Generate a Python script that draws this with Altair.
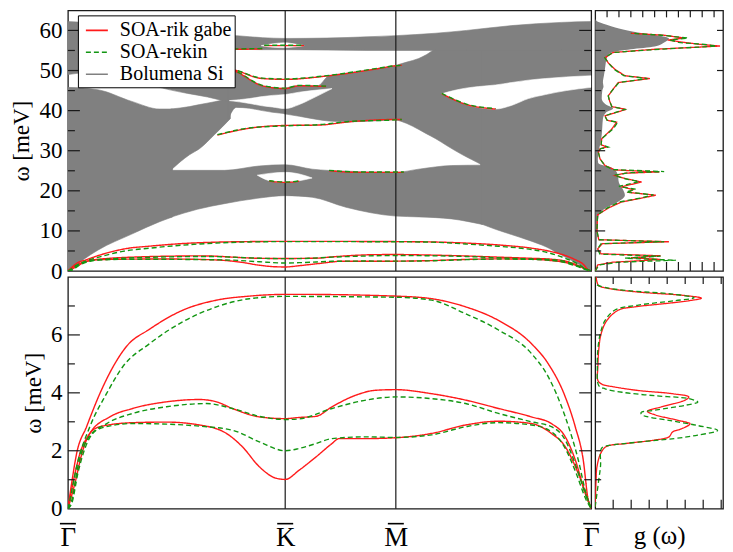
import altair as alt
import pandas as pd

SERIF = "Liberation Serif"
RED = "#ff1a1a"
GREEN = "#129612"
GRAY = "#808080"
FRAME = "#1a1a1a"

SERIES = ["SOA-rik gabe", "SOA-rekin", "Bolumena Si"]

# k-path positions (Γ = 0, K, M, Γ)
SYM_K = [0.0, 2.18, 3.29, 5.25]
SYM_LABELS = ["Γ", "K", "M", "Γ"]

# ---------------- low-energy surface modes (meV) ----------------
RUP_K = [0, 0.037, 0.087, 0.187, 0.32, 0.453, 0.587, 0.82, 1.15, 1.49, 1.82, 2.18, 2.32, 3.29, 3.65, 3.99, 4.32, 4.65, 4.82, 4.99, 5.09, 5.17, 5.22, 5.25]
RUP_W = [0, 0.87, 1.9, 2.83, 3.97, 4.9, 5.6, 6.2, 6.85, 7.2, 7.34, 7.4, 7.4, 7.34, 7.25, 6.97, 6.5, 5.7, 5.0, 3.86, 2.83, 1.69, 0.3, 0]
GUP_K = [0, 0.02, 0.087, 0.22, 0.387, 0.55, 0.82, 1.15, 1.49, 1.82, 2.18, 3.29, 3.65, 3.99, 4.32, 4.65, 4.82, 4.99, 5.12, 5.2, 5.25]
GUP_W = [0, 0.3, 1.45, 2.83, 3.97, 4.9, 5.7, 6.45, 6.97, 7.25, 7.33, 7.3, 7.2, 6.73, 6.17, 5.36, 4.55, 3.17, 1.69, 0.5, 0]
RMID_K = [0, 0.05, 0.12, 0.22, 0.42, 0.65, 0.99, 1.32, 1.49, 1.65, 1.92, 2.18, 2.32, 2.49, 2.65, 2.89, 3.09, 3.29, 3.65, 3.99, 4.32, 4.65, 4.85, 4.99, 5.09, 5.19, 5.25]
RMID_W = [0, 0.87, 1.9, 2.6, 3.17, 3.46, 3.69, 3.77, 3.69, 3.46, 3.17, 3.11, 3.15, 3.19, 3.52, 3.92, 4.09, 4.11, 3.97, 3.75, 3.46, 3.17, 2.94, 2.48, 1.69, 0.53, 0]
GMID_K = [0, 0.04, 0.10, 0.19, 0.39, 0.65, 0.99, 1.39, 1.65, 1.92, 2.18, 2.32, 2.65, 2.99, 3.29, 3.65, 3.99, 4.32, 4.65, 4.85, 4.99, 5.10, 5.19, 5.25]
GMID_W = [0, 0.3, 1.45, 2.37, 2.94, 3.29, 3.52, 3.63, 3.46, 3.19, 3.08, 3.1, 3.46, 3.75, 3.86, 3.8, 3.63, 3.29, 3.0, 2.83, 2.37, 1.45, 0.53, 0]
RLO_K = [0, 0.07, 0.14, 0.22, 0.32, 0.65, 0.99, 1.32, 1.59, 1.75, 1.92, 2.09, 2.18, 2.32, 2.49, 2.65, 2.72, 2.99, 3.29, 3.65, 3.99, 4.32, 4.65, 4.85, 4.99, 5.12, 5.22, 5.25]
RLO_W = [0, 0.87, 1.9, 2.6, 2.83, 2.97, 2.99, 2.89, 2.6, 2.14, 1.45, 1.05, 1.01, 1.33, 1.79, 2.25, 2.42, 2.42, 2.45, 2.6, 2.89, 3.02, 2.94, 2.6, 2.14, 1.22, 0.3, 0]
GLO_K = [0, 0.04, 0.10, 0.19, 0.32, 0.65, 0.99, 1.32, 1.65, 1.92, 2.18, 2.32, 2.49, 2.65, 2.99, 3.29, 3.65, 3.99, 4.32, 4.65, 4.85, 4.99, 5.10, 5.20, 5.25]
GLO_W = [0, 0.2, 1.22, 2.25, 2.77, 2.94, 2.92, 2.85, 2.71, 2.31, 2.0, 2.08, 2.25, 2.42, 2.48, 2.46, 2.55, 2.83, 2.97, 2.89, 2.66, 2.08, 1.22, 0.3, 0]

# ---------------- higher surface modes (top panel) ----------------
S36_K = [1.50, 1.65, 1.82, 2.18, 2.52, 2.82, 3.29, 3.35]
S36_R = [33.9, 34.8, 35.6, 36.3, 36.4, 37.2, 37.8, 37.8]
S36_G = [34.0, 34.9, 35.7, 36.2, 36.5, 37.3, 37.7, 37.8]
S22_K = [2.02, 2.10, 2.18, 2.26, 2.32]
S22_R = [22.4, 22.2, 22.1, 22.2, 22.4]
S22_G = [22.5, 22.3, 22.2, 22.3, 22.5]
S25_K = [2.62, 2.92, 3.29, 3.37]
S25_R = [25.0, 24.6, 24.6, 24.6]
S25_G = [25.1, 24.7, 24.7, 24.7]
S48_K = [1.55, 1.69, 1.95, 2.18, 2.62, 3.12, 3.29, 3.35]
S48_R = [51.0, 50.0, 48.0, 47.8, 48.7, 50.5, 51.2, 51.3]
S48_G = [51.0, 50.1, 48.1, 47.9, 48.8, 50.6, 51.2, 51.3]
S45_K = [1.55, 1.69, 1.95, 2.18, 2.32, 2.59]
S45_R = [51.0, 49.7, 46.2, 45.5, 46.2, 46.0]
S45_G = [51.0, 49.8, 46.3, 45.6, 46.3, 46.1]
S56_K = [1.97, 2.18, 2.37]
S56_R = [56.2, 56.2, 56.2]
S56_G = [56.3, 56.3, 56.3]
SR_K = [3.75, 3.99, 4.29]
SR_R = [44.2, 41.6, 40.4]
SR_G = [44.3, 41.7, 40.5]
S55_K = [1.50, 1.70, 1.95]
S55_R = [55.3, 55.3, 55.4]
S55_G = [55.4, 55.4, 55.5]

# ---------------- projected bulk bands (gray) ----------------
PA_K = [0, 0.30, 0.64, 0.92, 1.05]
PA_LO = [0, 5.2, 9.2, 12.3, 13.5]
PA_HI = [45.8, 45.2, 42.3, 40.4, 40.4]
PB_K = [1.03, 1.30, 1.57, 1.92, 2.18, 2.45, 2.79, 3.29, 3.52, 3.85, 4.16]
PB_LO = [13.4, 15.4, 16.8, 18.2, 18.8, 18.4, 15.9, 13.7, 13.5, 13.0, 11.6]
PB_HI = [25.1, 25.1, 25.1, 26.2, 26.5, 25.4, 24.9, 24.6, 25.4, 26.3, 26.4]
PC_K = [1.03, 1.22, 1.32, 1.47, 1.63]
PC_LO = [25.1, 29.0, 30.5, 34.0, 38.0]
PC_HI = [40.4, 41.0, 41.5, 42.2, 43.0]
PG2_K = [0.82, 1.0, 1.2, 1.4, 1.63]
PG2_LO = [46.5, 45.3, 44.3, 43.4, 42.0]
PG2_HI = [49.0, 49.5, 50.0, 50.5, 50.5]
PD_K = [1.61, 1.69, 1.82, 1.95, 2.05, 2.19]
PD_LO = [38.0, 40.8, 40.6, 40.0, 39.6, 39.2]
PD_HI = [50.5, 49.7, 47.8, 46.2, 45.8, 45.5]
PE_K = [2.17, 2.32, 2.50, 2.62, 2.79, 3.12, 3.30]
PE_LO = [39.2, 38.6, 37.8, 37.4, 37.2, 37.5, 37.8]
PE_HI = [45.5, 46.2, 46.1, 48.7, 49.3, 50.5, 51.2]
PF_K = [3.28, 3.40, 3.52, 3.60, 3.69, 3.80, 3.95, 4.05, 4.16]
PF_LO = [37.8, 36.8, 35.3, 34.2, 33.0, 31.3, 29.1, 27.8, 26.4]
PF_HI = [51.2, 52.1, 53.0, 54.0, 55.3, 55.5, 55.5, 55.5, 55.5]
PG_K = [4.14, 4.29, 4.45, 4.62, 4.80, 4.95, 5.10, 5.25]
PG_LO = [11.8, 10.4, 9.1, 7.7, 6.0, 4.0, 2.0, 0.0]
PG_HI = [55.5, 55.5, 55.5, 55.5, 55.5, 55.5, 55.5, 55.5]
PT_K = [0, 0.5, 1.0, 1.4, 1.69, 1.95, 2.18, 2.6, 3.0, 3.29, 3.69, 4.0, 4.45, 4.95, 5.25]
PT_LO = [49.0, 50.6, 52.5, 54.0, 55.3, 55.2, 55.2, 55.1, 55.0, 55.0, 55.0, 55.0, 55.0, 55.0, 55.0]
PT_HI = [62.2, 61.5, 60.3, 59.3, 58.7, 58.2, 58.0, 58.1, 58.4, 58.7, 59.3, 60.0, 61.2, 62.0, 62.2]
# gaps inside the gray region
H1_K = [1.90, 2.04, 2.18, 2.32, 2.45]
H1_LO = [23.9, 22.4, 22.1, 22.5, 23.2]
H1_HI = [23.9, 24.4, 24.6, 24.2, 23.2]
H2_K = [1.94, 2.06, 2.18, 2.28, 2.37]
H2_LO = [56.2, 55.8, 55.7, 55.9, 56.2]
H2_HI = [56.2, 56.7, 56.9, 56.6, 56.2]
H3_K = [1.62, 1.82, 1.95, 2.05, 2.18, 2.32, 2.45, 2.65]
H3_LO = [42.5, 41.8, 41.2, 40.9, 40.5, 41.5, 43.0, 45.5]
H3_HI = [42.5, 43.0, 43.5, 43.8, 44.0, 44.6, 45.0, 45.5]
H4_K = [3.75, 3.87, 3.99, 4.12, 4.29, 4.45, 4.62, 4.79, 5.0, 5.25]
H4_LO = [44.2, 43.0, 41.6, 40.8, 40.4, 41.3, 43.0, 44.0, 45.0, 45.8]
H4_HI = [44.2, 45.0, 45.6, 46.0, 46.4, 47.0, 47.6, 48.0, 48.4, 48.7]

# ---------------- density of states (top, 0-65 meV) ----------------
BULK_W = [0, 4, 8, 11, 14, 15.7, 17.2, 18.9, 20.5, 22, 24, 25.3, 26, 26.5, 27, 28, 30, 32, 34, 36, 38, 39.5, 40.5, 41.5, 43, 45, 46, 47, 49, 50, 51, 53.4, 54.5, 55.3, 56, 57, 58, 58.8, 59.5, 60.5, 61.5, 62.3, 63]
BULK_G = [0, 0.08, 0.15, 0.2, 0.3, 0.9, 1.9, 2.5, 2.3, 2.0, 1.9, 1.6, 1.2, 0.5, 0.25, 0.22, 0.3, 0.45, 0.55, 0.6, 0.65, 0.9, 1.5, 0.9, 0.55, 0.6, 0.7, 0.65, 0.75, 0.8, 0.85, 1.0, 1.4, 3.0, 5.0, 5.8, 6.2, 5.2, 3.6, 2.0, 0.9, 0.15, 0]
RDOS_W = [0, 0.5, 1.5, 2.2, 2.6, 2.9, 3.3, 3.8, 4.3, 5.5, 6.8, 7.3, 7.8, 10, 14, 15.7, 17.2, 18.0, 18.9, 19.6, 20.3, 21.0, 22.2, 23.0, 23.8, 24.4, 24.7, 25.2, 26.3, 28, 29.6, 30.5, 30.9, 31.5, 33, 35.4, 37.1, 37.6, 38.7, 40.3, 41, 42.5, 43.7, 45.3, 47, 48, 48.7, 50.3, 51.9, 53.2, 54.5, 55.3, 56.1, 56.5, 57, 57.6, 58.1, 58.8, 59.3]
RDOS_G = [0, 0.1, 0.2, 1.5, 4.0, 5.5, 3.0, 5.5, 0.5, 0.2, 0.6, 6.2, 0.3, 0.15, 0.2, 1.1, 2.2, 3.6, 5.1, 2.8, 3.2, 2.2, 3.9, 2.6, 1.66, 2.5, 5.4, 1.66, 0.83, 0.4, 0.27, 0.4, 0.97, 0.5, 0.55, 1.4, 1.8, 1.0, 0.83, 2.6, 1.4, 1.2, 1.1, 1.5, 1.94, 4.6, 2.5, 1.66, 1.1, 0.83, 1.5, 5.0, 10.5, 8.9, 7.5, 6.1, 7.5, 5.8, 3.0]
GDOS_W = [0, 0.5, 1.5, 2.2, 2.7, 3.2, 3.7, 4.2, 5.5, 6.8, 7.3, 7.8, 10, 14, 15.7, 17.2, 18.2, 19.0, 19.7, 20.4, 21.1, 22.3, 23.1, 23.9, 24.5, 24.8, 25.3, 26.3, 28, 29.6, 30.5, 30.9, 31.5, 33, 35.4, 37.1, 37.6, 38.7, 40.3, 41, 42.5, 43.7, 45.3, 47, 48, 48.7, 50.3, 51.9, 53.2, 54.5, 55.3, 56.1, 56.5, 57, 57.6, 58.1, 58.8, 59.3]
GDOS_G = [0, 0.12, 0.3, 2.0, 6.8, 2.5, 5.5, 0.4, 0.2, 0.5, 5.8, 0.3, 0.15, 0.2, 1.0, 2.0, 3.8, 4.9, 2.6, 3.4, 2.0, 3.7, 2.4, 1.6, 2.8, 5.8, 1.5, 0.8, 0.4, 0.27, 0.45, 1.1, 0.5, 0.55, 1.5, 1.9, 1.0, 0.8, 2.5, 1.4, 1.2, 1.1, 1.5, 2.0, 4.4, 2.4, 1.6, 1.1, 0.8, 1.5, 5.4, 10.2, 9.2, 7.0, 6.3, 7.8, 5.6, 3.0]

# ---------------- density of states (bottom, 0-8 meV) ----------------
RDOS2_W = [0.07, 1.0, 1.45, 1.9, 2.14, 2.25, 2.37, 2.48, 2.65, 2.76, 2.93, 3.05, 3.24, 3.36, 3.52, 3.75, 3.86, 3.97, 4.08, 4.2, 4.3, 4.43, 4.9, 5.5, 6.04, 6.5, 6.86, 6.97, 7.07, 7.18, 7.27, 7.36, 7.48, 7.6, 7.7, 7.83, 8.0]
RDOS2_G = [0, 0.05, 0.1, 0.3, 0.6, 1.7, 3.3, 4.1, 4.3, 4.8, 5.27, 4.6, 3.33, 2.9, 3.7, 5.0, 5.2, 4.3, 2.4, 1.1, 0.37, 0.15, 0.15, 0.2, 0.33, 0.65, 1.3, 2.2, 3.7, 5.2, 5.9, 5.0, 2.4, 0.8, 0.2, 0.1, 0.05]
GDOS2_W = [0.07, 1.0, 1.5, 2.0, 2.12, 2.2, 2.3, 2.42, 2.54, 2.7, 2.87, 3.05, 3.24, 3.32, 3.4, 3.57, 3.68, 3.8, 3.9, 4.02, 4.14, 4.25, 4.9, 5.5, 6.04, 6.5, 6.86, 7.03, 7.18, 7.28, 7.41, 7.53, 7.64, 7.76, 8.0]
GDOS2_G = [0, 0.2, 0.3, 0.3, 0.4, 1.0, 2.4, 4.4, 5.7, 6.8, 5.7, 4.1, 2.6, 2.55, 3.3, 5.0, 5.7, 5.2, 3.3, 1.5, 0.55, 0.2, 0.12, 0.15, 0.28, 0.55, 1.1, 2.4, 4.4, 5.5, 4.3, 1.8, 0.55, 0.05, 0]

# tick values
TOP_MAJ = [10, 20, 30, 40, 50, 60]
TOP_MIN = [5, 15, 25, 35, 45, 55]
BOT_MAJ = [2, 4, 6]
BOT_MIN = [1, 3, 5, 7]
DOS_TOP_X = [1, 2, 3, 4, 5, 6, 7, 8, 9, 10]
DOS_BOT_X = [1, 2, 3, 4, 5, 6, 7]
DOS_BOT_Y = [1, 2, 3, 4, 5, 6, 7]

W_BAND, W_DOS = 524, 128
H_TOP, H_BOT = 261, 232

# ---------------- scales & axes ----------------
XS = alt.Scale(domain=[0, 5.25], nice=False, zero=False)
YS_TOP = alt.Scale(domain=[0, 65], nice=False, zero=False)
YS_BOT = alt.Scale(domain=[0, 8], nice=False, zero=False)
GS_TOP = alt.Scale(domain=[0, 10.75], nice=False, zero=False)
GS_BOT = alt.Scale(domain=[0, 7.1], nice=False, zero=False)
COLOR_SCALE = alt.Scale(domain=SERIES, range=[RED, GREEN, GRAY])
DASH_SCALE = alt.Scale(domain=SERIES, range=[[1, 0], [5, 3], [1, 0]])

YAX_TOP = alt.Axis(title="ω [meV]", values=[0, 10, 20, 30, 40, 50, 60], ticks=False, tickSize=0,
                   domain=False, grid=False, labelPadding=6, titlePadding=5)
YAX_BOT = alt.Axis(title="ω [meV]", values=[0, 2, 4, 6], ticks=False, tickSize=0,
                   domain=False, grid=False, labelPadding=6, titlePadding=5)
lab_expr = ("datum.value < 1 ? '%s' : datum.value < 3 ? '%s' : datum.value < 4 ? '%s' : '%s'"
            % tuple(SYM_LABELS))
XAX_BOT = alt.Axis(title=None, values=SYM_K, labelExpr=lab_expr, ticks=False, tickSize=0,
                   domain=False, grid=False, labelFontSize=27, labelPadding=16,
                   labelFlush=False, labelOverlap=False, labelBound=False)
XAX_DOS = alt.Axis(title="g (ω)", labels=False, ticks=False, tickSize=0, domain=False,
                   grid=False, titleFontSize=25, titlePadding=15)

LEGEND = alt.Legend(title=None, orient="none", legendX=10, legendY=5, symbolType="stroke",
                    symbolSize=484, symbolStrokeWidth=1.6, labelFont=SERIF, labelFontSize=20,
                    labelColor="black", fillColor="white", strokeColor="black", padding=3,
                    rowPadding=0, symbolOffset=4, labelOffset=11, labelLimit=400)


def polys_df(entries):
    rows = []
    for pid, ks, los, his in entries:
        for k, lo, hi in zip(ks, los, his):
            rows.append({"poly": pid, "k": k, "lo": lo, "hi": hi})
    return pd.DataFrame(rows)


def lines_df(entries, series):
    rows = []
    for lid, ks, ws in entries:
        for k, w in zip(ks, ws):
            rows.append({"line": lid, "k": k, "w": w, "series": series})
    return pd.DataFrame(rows)


def band_lines(df, ys, xax, yax, legend):
    return alt.Chart(df).mark_line(strokeWidth=1.4, interpolate="monotone", clip=True).encode(
        x=alt.X("k:Q", scale=XS, axis=xax),
        y=alt.Y("w:Q", scale=ys, axis=yax),
        color=alt.Color("series:N", scale=COLOR_SCALE, legend=legend),
        strokeDash=alt.StrokeDash("series:N", scale=DASH_SCALE, legend=legend),
        detail="line:N",
    )


def yticks(vals, length, side, width, ys, yax):
    x1, x2 = (0, length) if side == "left" else (width - length, width)
    return alt.Chart(pd.DataFrame({"w": vals})).mark_rule(color=FRAME, strokeWidth=1.2).encode(
        y=alt.Y("w:Q", scale=ys, axis=yax), x=alt.value(x1), x2=alt.value(x2))


def xticks(vals, length, side, height, gs, xax):
    y1, y2 = (0, length) if side == "top" else (height - length, height)
    return alt.Chart(pd.DataFrame({"g": vals})).mark_rule(color=FRAME, strokeWidth=1.2).encode(
        x=alt.X("g:Q", scale=gs, axis=xax), y=alt.value(y1), y2=alt.value(y2))


def vlines(xax):
    return alt.Chart(pd.DataFrame({"k": SYM_K[1:3]})).mark_rule(color=FRAME, strokeWidth=1.2).encode(
        x=alt.X("k:Q", scale=XS, axis=xax))


def dos_line(w, g, series, gs, ys, xax, yax, interp):
    df = pd.DataFrame({"w": w, "g": g, "series": series})
    return alt.Chart(df).mark_line(strokeWidth=1.3, interpolate=interp, clip=True).encode(
        x=alt.X("g:Q", scale=gs, axis=xax),
        y=alt.Y("w:Q", scale=ys, axis=yax),
        order="w:Q",
        color=alt.Color("series:N", scale=COLOR_SCALE, legend=None),
        strokeDash=alt.StrokeDash("series:N", scale=DASH_SCALE, legend=None),
    )


low_red = [("up", RUP_K, RUP_W), ("mid", RMID_K, RMID_W), ("lo", RLO_K, RLO_W)]
low_green = [("up", GUP_K, GUP_W), ("mid", GMID_K, GMID_W), ("lo", GLO_K, GLO_W)]
hi_red = [("s36", S36_K, S36_R), ("s22", S22_K, S22_R), ("s25", S25_K, S25_R),
          ("s48", S48_K, S48_R), ("s45", S45_K, S45_R), ("s56", S56_K, S56_R),
          ("sr", SR_K, SR_R), ("s55", S55_K, S55_R)]
hi_green = [("s36", S36_K, S36_G), ("s22", S22_K, S22_G), ("s25", S25_K, S25_G),
            ("s48", S48_K, S48_G), ("s45", S45_K, S45_G), ("s56", S56_K, S56_G),
            ("sr", SR_K, SR_G), ("s55", S55_K, S55_G)]

gray_df = polys_df([("A", PA_K, PA_LO, PA_HI), ("B", PB_K, PB_LO, PB_HI), ("C", PC_K, PC_LO, PC_HI),
                    ("G2", PG2_K, PG2_LO, PG2_HI), ("D", PD_K, PD_LO, PD_HI), ("E", PE_K, PE_LO, PE_HI),
                    ("F", PF_K, PF_LO, PF_HI), ("G", PG_K, PG_LO, PG_HI), ("T", PT_K, PT_LO, PT_HI)])
hole_df = polys_df([("H1", H1_K, H1_LO, H1_HI), ("H2", H2_K, H2_LO, H2_HI),
                    ("H3", H3_K, H3_LO, H3_HI), ("H4", H4_K, H4_LO, H4_HI)])


def area_layer(df, color):
    return alt.Chart(df).mark_area(color=color, stroke=color, strokeWidth=0.6,
                                   interpolate="monotone", clip=True).encode(
        x=alt.X("k:Q", scale=XS, axis=None),
        y=alt.Y("lo:Q", scale=YS_TOP, axis=YAX_TOP),
        y2="hi:Q",
        detail="poly:N",
    )


# ---------------- top-left: full band structure ----------------
top_left = alt.layer(
    area_layer(gray_df, GRAY),
    area_layer(hole_df, "white"),
    vlines(None),
    band_lines(lines_df(low_red + hi_red, SERIES[0]), YS_TOP, None, YAX_TOP, LEGEND),
    band_lines(lines_df(low_green + hi_green, SERIES[1]), YS_TOP, None, YAX_TOP, LEGEND),
    yticks(TOP_MAJ, 12, "left", W_BAND, YS_TOP, YAX_TOP),
    yticks(TOP_MIN, 7, "left", W_BAND, YS_TOP, YAX_TOP),
    yticks(TOP_MAJ, 12, "right", W_BAND, YS_TOP, YAX_TOP),
    yticks(TOP_MIN, 7, "right", W_BAND, YS_TOP, YAX_TOP),
).properties(width=W_BAND, height=H_TOP)

# ---------------- top-right: DOS ----------------
bulk_area = alt.Chart(pd.DataFrame({"w": BULK_W, "g": BULK_G})).mark_area(
    color=GRAY, orient="horizontal", interpolate="monotone", clip=True).encode(
    y=alt.Y("w:Q", scale=YS_TOP, axis=None),
    x=alt.X("g:Q", scale=GS_TOP, axis=None),
)
top_right = alt.layer(
    bulk_area,
    dos_line(RDOS_W, RDOS_G, SERIES[0], GS_TOP, YS_TOP, None, None, "linear"),
    dos_line(GDOS_W, GDOS_G, SERIES[1], GS_TOP, YS_TOP, None, None, "linear"),
    xticks(DOS_TOP_X, 7, "top", H_TOP, GS_TOP, None),
    xticks(DOS_TOP_X, 9, "bottom", H_TOP, GS_TOP, None),
    yticks(TOP_MAJ, 10, "left", W_DOS, YS_TOP, None),
    yticks(TOP_MIN, 6, "left", W_DOS, YS_TOP, None),
    yticks(TOP_MAJ, 6, "right", W_DOS, YS_TOP, None),
).properties(width=W_DOS, height=H_TOP)

# ---------------- bottom-left: low-energy zoom ----------------
overbars = alt.Chart(pd.DataFrame({"k": SYM_K})).mark_tick(
    orient="horizontal", size=16, thickness=1.6, color="black", opacity=1).encode(
    x=alt.X("k:Q", scale=XS, axis=XAX_BOT), y=alt.value(H_BOT + 15))

bottom_left = alt.layer(
    vlines(XAX_BOT),
    band_lines(lines_df(low_red, SERIES[0]), YS_BOT, XAX_BOT, YAX_BOT, None),
    band_lines(lines_df(low_green, SERIES[1]), YS_BOT, XAX_BOT, YAX_BOT, None),
    yticks(BOT_MAJ, 12, "left", W_BAND, YS_BOT, YAX_BOT),
    yticks(BOT_MIN, 7, "left", W_BAND, YS_BOT, YAX_BOT),
    yticks(BOT_MAJ, 12, "right", W_BAND, YS_BOT, YAX_BOT),
    yticks(BOT_MIN, 7, "right", W_BAND, YS_BOT, YAX_BOT),
    overbars,
).properties(width=W_BAND, height=H_BOT)

# ---------------- bottom-right: low-energy DOS ----------------
bottom_right = alt.layer(
    dos_line(RDOS2_W, RDOS2_G, SERIES[0], GS_BOT, YS_BOT, XAX_DOS, None, "catmull-rom"),
    dos_line(GDOS2_W, GDOS2_G, SERIES[1], GS_BOT, YS_BOT, XAX_DOS, None, "catmull-rom"),
    xticks(DOS_BOT_X, 7, "top", H_BOT, GS_BOT, XAX_DOS),
    xticks(DOS_BOT_X, 9, "bottom", H_BOT, GS_BOT, XAX_DOS),
    yticks(DOS_BOT_Y, 6, "left", W_DOS, YS_BOT, None),
).properties(width=W_DOS, height=H_BOT)

chart = alt.concat(
    top_left, top_right, bottom_left, bottom_right, columns=2,
    spacing={"row": 6, "column": 4}, bounds="flush",
).resolve_scale(
    color="independent", strokeDash="independent"
).properties(
    padding={"left": 2, "top": 0, "right": 0, "bottom": 0}, background="white"
).configure_view(
    stroke=FRAME, strokeWidth=1.3
).configure_axis(
    labelFont=SERIF, titleFont=SERIF, labelColor="black", titleColor="black",
    titleFontWeight="normal", labelFontSize=23, titleFontSize=23
)

chart.save("out.html", embed_options={"renderer": "svg", "actions": False})
